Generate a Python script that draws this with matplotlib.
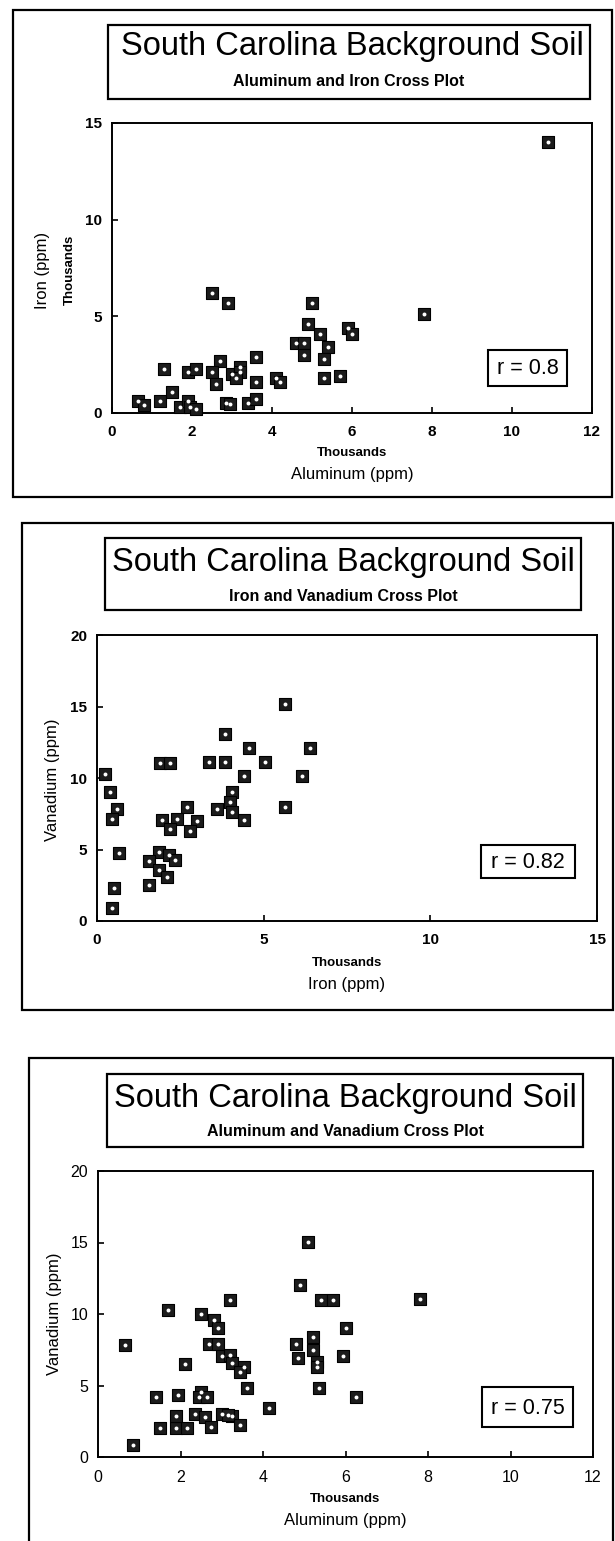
import matplotlib
matplotlib.use("Agg")
import matplotlib.pyplot as plt
from matplotlib.patches import Rectangle

plt.rcParams['font.family'] = ['Liberation Sans', 'DejaVu Sans']

# ---------------- data (thousands of ppm for Al / Fe, ppm for V) ----------------
title_main = "South Carolina Background Soil"

p1_subtitle = "Aluminum and Iron Cross Plot"
p1_al = [10.9, 2.5, 2.9, 5.0, 7.8, 4.9, 5.2, 5.9, 6.0, 4.6, 4.8, 4.8, 5.4, 5.3,
         5.3, 5.7, 3.6, 3.6, 4.1, 4.2, 3.4, 3.6, 2.7, 2.5, 2.6, 3.0, 3.2, 3.2,
         3.1, 2.85, 2.95, 1.3, 1.9, 2.1, 1.5, 1.2, 0.65, 0.8, 1.7, 1.9, 1.95, 2.1]
p1_fe = [14.0, 6.2, 5.7, 5.7, 5.1, 4.6, 4.1, 4.4, 4.1, 3.6, 3.6, 3.0, 3.4, 2.8,
         1.8, 1.9, 2.9, 1.6, 1.8, 1.6, 0.5, 0.7, 2.7, 2.1, 1.5, 2.0, 2.4, 2.1,
         1.8, 0.5, 0.45, 2.3, 2.1, 2.3, 1.1, 0.6, 0.6, 0.4, 0.3, 0.6, 0.3, 0.2]
p1_r = "r = 0.8"
p1_xticks = [0, 2, 4, 6, 8, 10, 12]
p1_yticks = [0, 5, 10, 15]

p2_subtitle = "Iron and Vanadium Cross Plot"
p2_fe = [5.65, 3.85, 4.55, 6.4, 1.9, 2.2, 3.35, 3.85, 5.05, 4.4, 6.15, 0.25, 0.4,
         0.6, 0.45, 0.65, 0.5, 0.45, 4.05, 4.0, 4.05, 4.4, 3.6, 5.65, 2.7, 1.95,
         2.4, 2.2, 3.0, 2.8, 1.85, 2.15, 2.35, 1.55, 1.85, 2.1, 1.55]
p2_v = [15.2, 13.1, 12.1, 12.1, 11.05, 11.05, 11.1, 11.1, 11.1, 10.15, 10.15, 10.3,
        9.0, 7.8, 7.1, 4.75, 2.3, 0.9, 9.05, 8.35, 7.6, 7.05, 7.85, 8.0, 7.95,
        7.05, 7.1, 6.45, 7.0, 6.3, 4.85, 4.6, 4.3, 4.2, 3.55, 3.1, 2.55]
p2_r = "r = 0.82"
p2_xticks = [0, 5, 10, 15]
p2_yticks = [0, 5, 10, 15, 20]

p3_subtitle = "Aluminum and Vanadium Cross Plot"
p3_al = [5.1, 4.9, 3.2, 5.4, 5.7, 7.8, 1.7, 2.5, 2.8, 2.9, 6.0, 0.65, 2.7, 2.9,
         3.0, 3.2, 3.25, 3.55, 3.45, 2.1, 5.2, 4.8, 4.85, 5.2, 5.3, 5.3, 5.95,
         3.6, 5.35, 6.25, 4.15, 1.4, 1.95, 2.5, 2.45, 2.65, 0.85, 1.5, 1.9, 1.9,
         2.15, 2.35, 2.6, 2.75, 3.0, 3.25, 3.45, 3.15]
p3_v = [15.05, 12.0, 11.0, 11.0, 11.0, 11.05, 10.25, 10.0, 9.55, 9.0, 9.05, 7.85,
        7.9, 7.9, 7.05, 7.1, 6.55, 6.3, 5.95, 6.5, 8.4, 7.9, 6.95, 7.5, 6.65,
        6.3, 7.05, 4.8, 4.8, 4.2, 3.45, 4.2, 4.35, 4.55, 4.2, 4.2, 0.85, 2.0,
        2.0, 2.9, 2.0, 3.0, 2.8, 2.1, 3.0, 2.9, 2.25, 2.95]
p3_r = "r = 0.75"
p3_xticks = [0, 2, 4, 6, 8, 10, 12]
p3_yticks = [0, 5, 10, 15, 20]

thousands = "Thousands"
lab_al = "Aluminum (ppm)"
lab_fe = "Iron (ppm)"
lab_v = "Vanadium (ppm)"

# ---------------- layout helpers (pixels) ----------------
W, H = 615, 1541
fig = plt.figure(figsize=(W / 100, H / 100), dpi=100)
fig.patch.set_facecolor("white")


def fx(x):
    return x / W


def fy(y):
    return 1 - y / H


def rect(l, t, r, b, lw=1.5):
    fig.add_artist(Rectangle((fx(l), fy(b)), (r - l) / W, (b - t) / H,
                             transform=fig.transFigure, fill=False,
                             edgecolor="black", linewidth=lw))


def text(x, y, s, **kw):
    fig.text(fx(x), fy(y), s, ha="center", va="center", **kw)


def make_axes(l, t, r, b, xs, ys, xticks, yticks, bold_ticks):
    ax = fig.add_axes([fx(l), fy(b), (r - l) / W, (b - t) / H])
    ax.scatter(xs, ys, marker="s", s=72, c="#1c1c1c", edgecolors="black",
               linewidths=0.8, zorder=3, clip_on=False)
    ax.scatter(xs, ys, marker="o", s=8, c="white", linewidths=0,
               zorder=4, clip_on=False)
    ax.set_xlim(xticks[0], xticks[-1])
    ax.set_ylim(yticks[0], yticks[-1])
    ax.set_xticks(xticks)
    ax.set_yticks(yticks)
    for sp in ax.spines.values():
        sp.set_linewidth(1.4)
    ax.tick_params(direction="in", length=4, width=1.2,
                   labelsize=11 if bold_ticks else 11.5, pad=7)
    ax.tick_params(axis="x", pad=9)
    wt = "bold" if bold_ticks else "normal"
    for lab in ax.get_xticklabels() + ax.get_yticklabels():
        lab.set_fontweight(wt)
    return ax


def r_box(l, t, r, b, s):
    rect(l, t, r, b, lw=1.5)
    text((l + r) / 2, (t + b) / 2 + 1, s, fontsize=15.5)


# ---------------- panel 1 ----------------
rect(13, 10, 612, 497, lw=1.6)
rect(108, 25, 590, 99, lw=1.6)
text(352, 46, title_main, fontsize=23.5)
text(349, 82, p1_subtitle, fontsize=11.5, fontweight="bold")
make_axes(112, 123, 592, 413, p1_al, p1_fe, p1_xticks, p1_yticks, True)
r_box(488, 350, 567, 386, p1_r)
text(352, 453, thousands, fontsize=9.5, fontweight="bold")
text(352, 475, lab_al, fontsize=12)
text(43, 270, lab_fe, fontsize=12, rotation=90)
text(70, 270, thousands, fontsize=9.5, fontweight="bold", rotation=90)

# ---------------- panel 2 ----------------
rect(22, 523, 613, 1010, lw=1.6)
rect(105, 538, 581, 610, lw=1.6)
text(343, 563, title_main, fontsize=23.5)
text(343, 596, p2_subtitle, fontsize=11.5, fontweight="bold")
make_axes(97, 635, 597, 921, p2_fe, p2_v, p2_xticks, p2_yticks, True)
r_box(481, 845, 575, 878, p2_r)
text(347, 963, thousands, fontsize=9.5, fontweight="bold")
text(347, 985, lab_fe, fontsize=12)
text(52, 780, lab_v, fontsize=12, rotation=90)

# ---------------- panel 3 ----------------
rect(29, 1058, 613, 1560, lw=1.6)
rect(107, 1074, 583, 1147, lw=1.6)
text(345, 1099, title_main, fontsize=23.5)
text(345, 1132, p3_subtitle, fontsize=11.5, fontweight="bold")
make_axes(98, 1171, 593, 1457, p3_al, p3_v, p3_xticks, p3_yticks, False)
r_box(482, 1387, 573, 1427, p3_r)
text(345, 1499, thousands, fontsize=9.5, fontweight="bold")
text(345, 1520, lab_al, fontsize=12)
text(55, 1314, lab_v, fontsize=12, rotation=90)

fig.savefig("out.png", dpi=100, facecolor="white")
